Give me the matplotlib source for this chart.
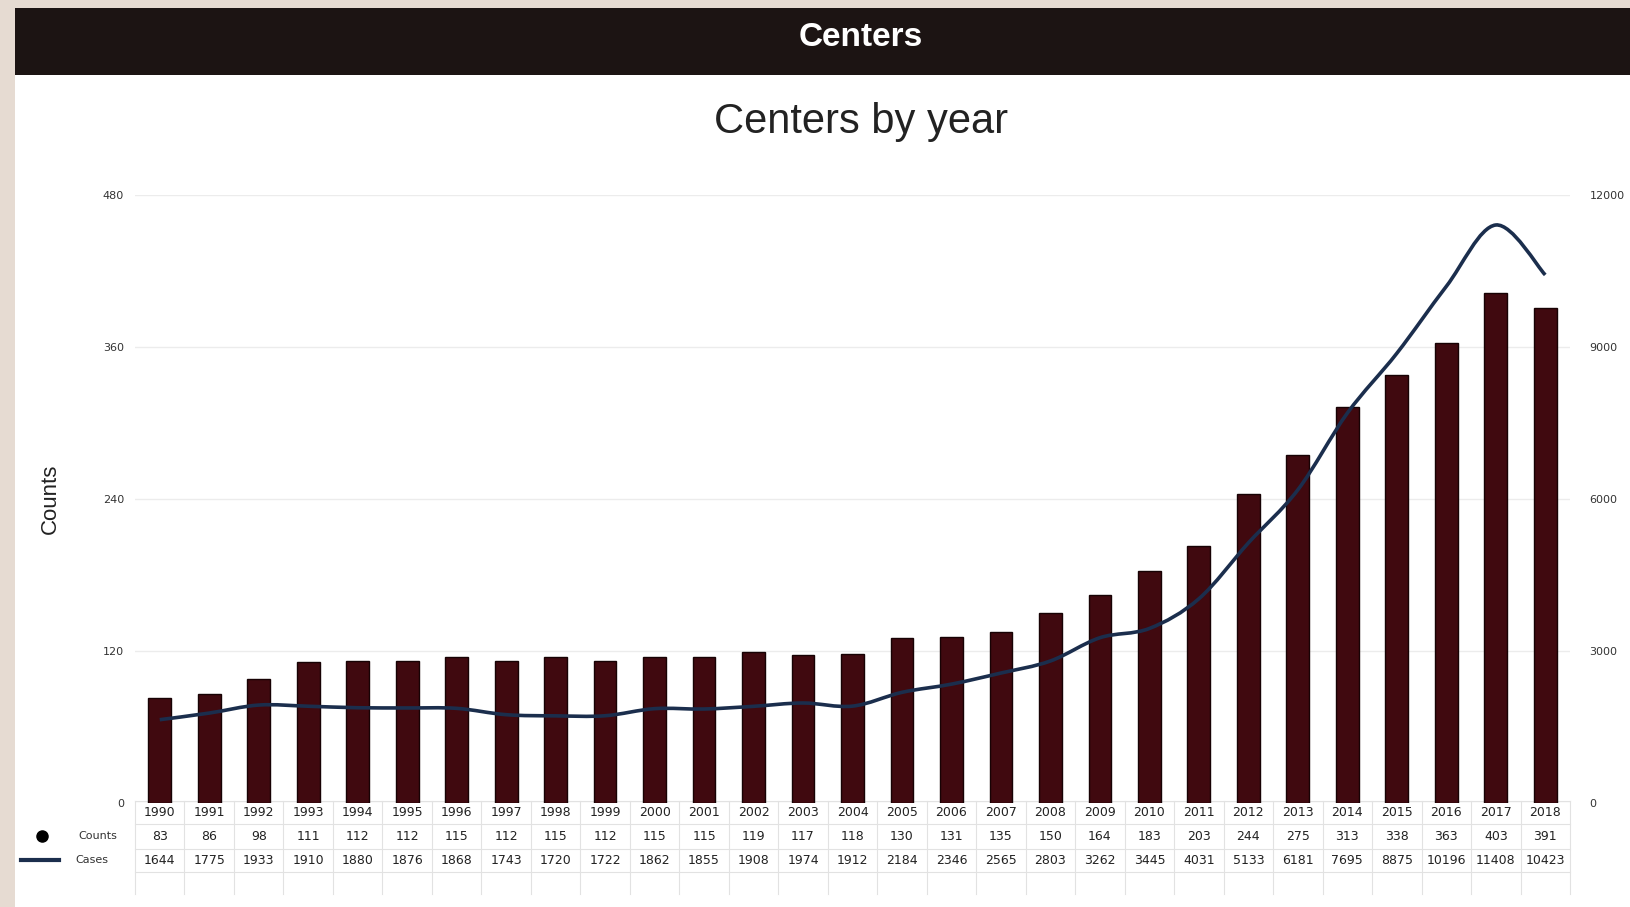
import matplotlib
matplotlib.use("Agg")
import matplotlib.pyplot as plt
from matplotlib.path import Path
from matplotlib.patches import PathPatch, Rectangle
from matplotlib.lines import Line2D
import matplotlib.transforms as mtransforms

# data
years = list(range(1990, 2019))
counts = [83, 86, 98, 111, 112, 112, 115, 112, 115, 112, 115, 115, 119, 117, 118,
          130, 131, 135, 150, 164, 183, 203, 244, 275, 313, 338, 363, 403, 391]
cases = [1644, 1775, 1933, 1910, 1880, 1876, 1868, 1743, 1720, 1722, 1862, 1855, 1908, 1974, 1912,
         2184, 2346, 2565, 2803, 3262, 3445, 4031, 5133, 6181, 7695, 8875, 10196, 11408, 10423]
left_ticks = [0, 120, 240, 360, 480]
right_ticks = [0, 3000, 6000, 9000, 12000]

BAR_COLOR = "#40090f"
LINE_COLOR = "#1b2e4d"
W, H = 1630, 907

fig = plt.figure(figsize=(W / 100, H / 100), dpi=100, facecolor="#e6dbd2")

# white page + dark banner (behind the axes)
fig.patches.append(Rectangle((15 / W, 0), 1, 1 - 8 / H, transform=fig.transFigure,
                             facecolor="white", edgecolor="none", zorder=-2))
fig.patches.append(Rectangle((15 / W, 1 - 75 / H), 1, 67 / H, transform=fig.transFigure,
                             facecolor="#1c1413", edgecolor="none", zorder=-1))
fig.text(0.528, 1 - 38 / H, "Centers", color="white", fontsize=24, fontweight="bold",
         ha="center", va="center", family="Liberation Sans")
fig.text(0.528, 1 - 122 / H, "Centers by year", color="#222222", fontsize=30,
         ha="center", va="center", family="Liberation Sans")

ax = fig.add_axes([135 / W, 1 - 803 / H, (1570 - 135) / W, (803 - 195) / H])
ax.set_facecolor("none")
x = list(range(len(years)))
ax.bar(x, counts, width=0.46, color=BAR_COLOR, edgecolor="#170204", linewidth=1.0, zorder=3)
ax.set_xlim(-0.5, len(years) - 0.5)
ax.set_ylim(0, 480)
ax.set_yticks(left_ticks)
ax.set_yticklabels([str(t) for t in left_ticks], fontsize=8, color="#333333")
ax.tick_params(axis="y", length=0, pad=8)
ax.set_xticks([])
ax.grid(axis="y", color="#ececec", linewidth=1)
ax.set_axisbelow(True)
for s in ax.spines.values():
    s.set_visible(False)
ax.set_ylabel("Counts", fontsize=16, color="#222222", labelpad=30, family="Liberation Sans")

ax2 = ax.twinx()
ax2.set_ylim(0, 12000)
ax2.set_yticks(right_ticks)
ax2.set_yticklabels([str(t) for t in right_ticks], fontsize=8, color="#333333")
ax2.tick_params(axis="y", length=0, pad=14)
for s in ax2.spines.values():
    s.set_visible(False)

# smooth spline through the cases values (catmull-rom as bezier segments)
pts = list(zip(x, cases))
verts = [pts[0]]
codes = [Path.MOVETO]
n = len(pts)
for i in range(n - 1):
    p0 = pts[max(i - 1, 0)]
    p1 = pts[i]
    p2 = pts[i + 1]
    p3 = pts[min(i + 2, n - 1)]
    c1 = (p1[0] + (p2[0] - p0[0]) / 6, p1[1] + (p2[1] - p0[1]) / 6)
    c2 = (p2[0] - (p3[0] - p1[0]) / 6, p2[1] - (p3[1] - p1[1]) / 6)
    verts += [c1, c2, p2]
    codes += [Path.CURVE4] * 3
ax2.add_patch(PathPatch(Path(verts, codes), facecolor="none", edgecolor=LINE_COLOR,
                        linewidth=2.6, zorder=4))

# data table under the plot
tr = mtransforms.blended_transform_factory(ax.transData, ax.transAxes)
row_y = [-0.016, -0.055, -0.094]
borders = [0.004, -0.035, -0.075, -0.114]
for yb in borders:
    ax.add_line(Line2D([-0.5, len(years) - 0.5], [yb, yb], transform=tr, color="#e2e2e2",
                       linewidth=0.8, clip_on=False))
for i in range(len(years) + 1):
    ax.add_line(Line2D([i - 0.5, i - 0.5], [borders[0], -0.15], transform=tr, color="#e2e2e2",
                       linewidth=0.8, clip_on=False))
for i in x:
    for row, vals in zip(row_y, [years, counts, cases]):
        ax.text(i, row, str(vals[i]), transform=tr, ha="center", va="center",
                fontsize=9, color="#222222", clip_on=False)

# row labels with legend symbols
fy1 = 1 - 836 / H
fy2 = 1 - 860 / H
fig.text(98 / W, fy1, "Counts", fontsize=8, ha="center", va="center", color="#333333")
fig.text(92 / W, fy2, "Cases", fontsize=8, ha="center", va="center", color="#333333")
fig.lines.append(Line2D([42 / W], [fy1], transform=fig.transFigure, marker="o",
                        markersize=8, color="black", linestyle="none"))
fig.lines.append(Line2D([21 / W, 59 / W], [fy2, fy2], transform=fig.transFigure,
                        color=LINE_COLOR, linewidth=3))

fig.savefig("out.png", dpi=100, facecolor=fig.get_facecolor())
